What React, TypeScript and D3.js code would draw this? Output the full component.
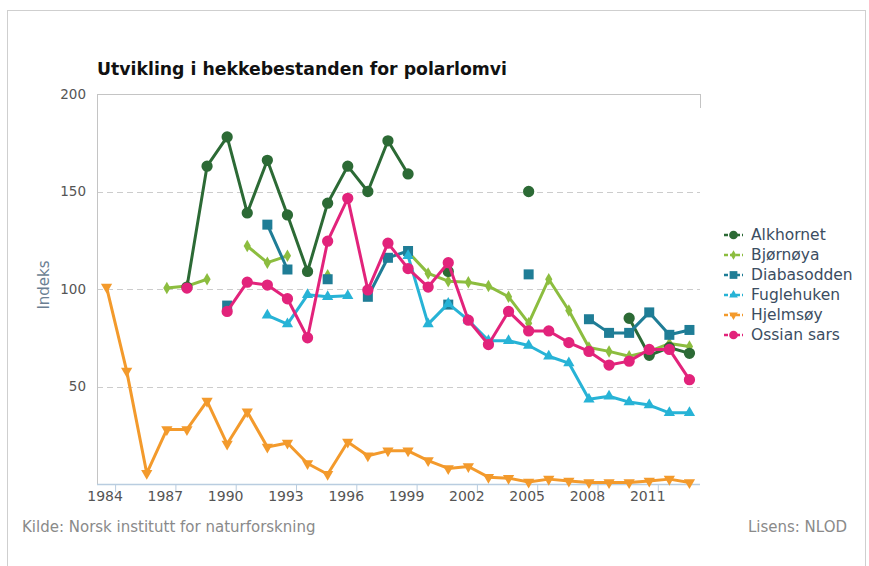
import React from "react";
import * as d3 from "d3";

const WIDTH = 869;
const HEIGHT = 566;

const years = [
  1984, 1985, 1986, 1987, 1988, 1989, 1990, 1991, 1992, 1993,
  1994, 1995, 1996, 1997, 1998, 1999, 2000, 2001, 2002, 2003,
  2004, 2005, 2006, 2007, 2008, 2009, 2010, 2011, 2012, 2013,
];
const tickYears = [1984, 1987, 1990, 1993, 1996, 1999, 2002, 2005, 2008, 2011];
const yTicks = [50, 100, 150, 200];

const alkhornet = [
  null, null, null, null, 101, 163, 178, 139, 166, 138,
  109, 144, 163, 150, 176, 159, null, 109, null, null,
  null, 150, null, null, null, null, 85, 66, 70, 67,
];
const bjornoya = [
  null, null, null, 100.5, 101.5, 105, null, 122, 113.5, 117,
  null, 107, null, null, null, 119, 108, 104, 103.5, 101.5,
  96, 82.5, 105, 89, 70, 68, 65.5, 68, 72, 70.5,
];
const diabasodden = [
  null, null, null, null, null, null, 91.5, null, 133, 110,
  null, 105, null, 96, 116, 119.5, null, 92, null, null,
  null, 107.5, null, null, 84.5, 77.5, 77.5, 88, 76.5, 79,
];
const fuglehuken = [
  null, null, null, null, null, null, null, null, 86.5, 82,
  97, 96, 96.5, null, null, 117, 82, 92.5, 84, 73.5,
  73.5, 71, 65.5, 62, 43.5, 45, 42, 40.5, 36.5, 36.5,
];
const hjelmsoy = [
  101, 58, 5.5, 28, 28, 42.5, 20.5, 37, 19, 21,
  10.5, 5, 21.5, 14.5, 17, 17, 12, 8, 9, 3.5,
  3, 1, 2.5, 1.5, 0.8, 0.8, 0.8, 1.5, 2.5, 0.8,
];
const ossianSars = [
  null, null, null, null, 100.5, null, 88.5, 103.5, 102, 95,
  75, 124.5, 146.5, 99.5, 123.5, 110.5, 101, 113.5, 84, 71.5,
  88.5, 78.5, 78.5, 72.5, 68, 61, 63, 69, 69, 53.5,
];

type Series = {
  name: string;
  values: (number | null)[];
  color: string;
  symbol: d3.SymbolType;
  size: number;
  rotate?: number;
};

// legend order
const series: Series[] = [
  { name: "Alkhornet", values: alkhornet, color: "#2c6a35", symbol: d3.symbolCircle, size: 100 },
  { name: "Bjørnøya", values: bjornoya, color: "#8cbd3f", symbol: d3.symbolDiamond, size: 45 },
  { name: "Diabasodden", values: diabasodden, color: "#1f7d96", symbol: d3.symbolSquare, size: 100 },
  { name: "Fuglehuken", values: fuglehuken, color: "#27b3d6", symbol: d3.symbolTriangle, size: 55 },
  { name: "Hjelmsøy", values: hjelmsoy, color: "#f39a2c", symbol: d3.symbolTriangle, size: 55, rotate: 180 },
  { name: "Ossian sars", values: ossianSars, color: "#e2237b", symbol: d3.symbolCircle, size: 100 },
];

// draw order (bottom to top)
const drawOrder = ["Bjørnøya", "Alkhornet", "Diabasodden", "Fuglehuken", "Hjelmsøy", "Ossian sars"];

const margin = { left: 97, right: 169, top: 94, bottom: 82 };

export default function App() {
  const x = d3
    .scaleBand<number>()
    .domain(years)
    .range([margin.left, WIDTH - margin.right]);
  const y = d3
    .scaleLinear()
    .domain([0, 200])
    .range([HEIGHT - margin.bottom, margin.top]);

  const cx = (yr: number) => (x(yr) as number) + x.bandwidth() / 2 - 0.5;

  const line = d3
    .line<number | null>()
    .defined((d) => d != null)
    .x((_, i) => cx(years[i]))
    .y((d) => y(d as number));

  const sans = "'DejaVu Sans', Verdana, sans-serif";
  const x0 = margin.left;
  const x1 = WIDTH - margin.right;
  const yBottom = y(0);

  return (
    <svg
      width={WIDTH}
      height={HEIGHT}
      style={{ position: "absolute", left: 0, top: 0, background: "#fff" }}
      fontFamily={sans}
    >
      <rect x={7.5} y={10.5} width={858} height={600} fill="#fff" stroke="#cfcfcf" />

      <text x={97} y={75} fontSize={17.3} fontWeight="bold" fill="#111">
        Utvikling i hekkebestanden for polarlomvi
      </text>

      {/* grid */}
      {yTicks.map((t) => (
        <line
          key={t}
          x1={x0}
          x2={x1}
          y1={Math.round(y(t)) + 0.5}
          y2={Math.round(y(t)) + 0.5}
          stroke={t === 200 ? "#c4c4c4" : "#cccccc"}
          strokeWidth={1}
          strokeDasharray={t === 200 ? undefined : "6,4"}
        />
      ))}
      <line x1={x1 + 0.5} x2={x1 + 0.5} y1={y(200)} y2={y(200) + 14} stroke="#c4c4c4" />
      <line x1={x0 + 0.5} x2={x0 + 0.5} y1={y(200)} y2={yBottom} stroke="#c4c4c4" />
      <line x1={x0} x2={x1} y1={yBottom + 0.5} y2={yBottom + 0.5} stroke="#b9cde0" strokeWidth={1.5} />

      {yTicks.map((t) => (
        <text key={t} x={86} y={y(t)} dy="0.35em" textAnchor="end" fontSize={13.5} fill="#555">
          {t}
        </text>
      ))}
      <text
        transform={`translate(49,${(y(0) + y(200)) / 2 - 4}) rotate(-90)`}
        textAnchor="middle"
        fontSize={15}
        fill="#6b7f93"
      >
        Indeks
      </text>

      {tickYears.map((yr) => (
        <g key={yr}>
          <line
            x1={(x(yr) as number) + x.bandwidth() - 1.5}
            x2={(x(yr) as number) + x.bandwidth() - 1.5}
            y1={yBottom}
            y2={yBottom + 8}
            stroke="#b9cde0"
          />
          <text x={cx(yr) - 1.5} y={501} textAnchor="middle" fontSize={14} fill="#555">
            {yr}
          </text>
        </g>
      ))}

      {/* series */}
      {drawOrder.map((name) => {
        const s = series.find((d) => d.name === name)!;
        const sym = d3.symbol().type(s.symbol).size(s.size)();
        return (
          <g key={name}>
            <path
              d={line(s.values) ?? ""}
              fill="none"
              stroke={s.color}
              strokeWidth={3}
              strokeLinejoin="round"
              strokeLinecap="round"
            />
            {s.values.map((v, i) =>
              v == null ? null : (
                <path
                  key={i}
                  d={sym ?? ""}
                  transform={`translate(${cx(years[i])},${y(v)})${s.rotate ? ` rotate(${s.rotate})` : ""}`}
                  fill={s.color}
                />
              )
            )}
          </g>
        );
      })}

      {/* legend */}
      {series.map((s, i) => {
        const ly = 235 + i * 20;
        const sym = d3.symbol().type(s.symbol).size(s.size * 0.6)();
        return (
          <g key={s.name}>
            <line
              x1={724}
              x2={743}
              y1={ly}
              y2={ly}
              stroke={s.color}
              strokeWidth={2.5}
              strokeDasharray="4,2"
            />
            <path
              d={sym ?? ""}
              transform={`translate(733.5,${ly})${s.rotate ? ` rotate(${s.rotate})` : ""}`}
              fill={s.color}
            />
            <text x={751} y={ly} dy="0.35em" fontSize={15.5} fill="#3b4d61">
              {s.name}
            </text>
          </g>
        );
      })}

      <text x={22} y={532} fontSize={15} fill="#8a8a8a">
        Kilde: Norsk institutt for naturforskning
      </text>
      <text x={847} y={532} textAnchor="end" fontSize={15} fill="#8a8a8a">
        Lisens: NLOD
      </text>
    </svg>
  );
}
